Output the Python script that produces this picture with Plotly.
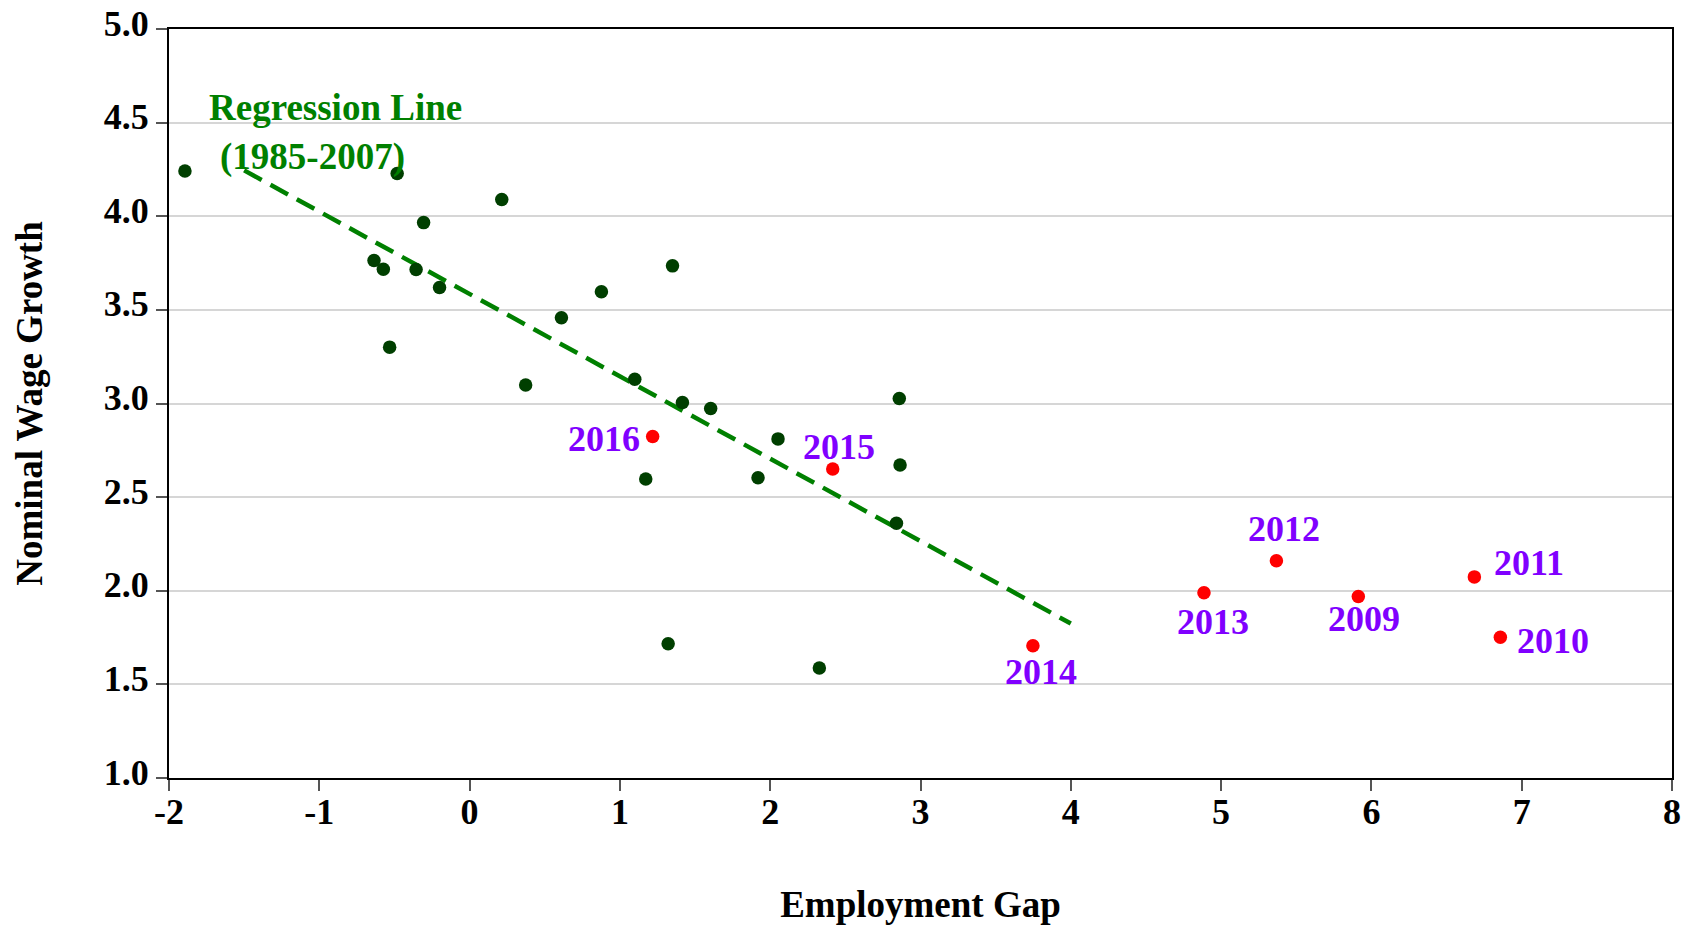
import plotly.graph_objects as go

# 1985-2007 observations: employment gap vs nominal wage growth
gap_hist = [-1.894, -0.482, 0.214, -0.306, -0.636, -0.574, -0.356, -0.200, 1.350,
            0.877, 0.611, -0.532, 0.373, 1.099, 1.416, 1.604, 2.859, 2.052,
            2.864, 1.172, 1.919, 2.840, 1.321, 2.327]
wage_hist = [4.242, 4.228, 4.090, 3.966, 3.764, 3.717, 3.716, 3.619, 3.735,
             3.597, 3.458, 3.301, 3.099, 3.129, 3.005, 2.973, 3.027, 2.811,
             2.672, 2.597, 2.604, 2.360, 1.717, 1.588]

# Post-crisis years
years = ["2009", "2010", "2011", "2012", "2013", "2014", "2015", "2016"]
gap_recent = [5.913, 6.858, 6.685, 5.368, 4.886, 3.748, 2.416, 1.218]
wage_recent = [1.969, 1.752, 2.074, 2.160, 1.989, 1.706, 2.650, 2.824]

# Regression line fitted on 1985-2007
reg_intercept = 3.585
reg_slope = -0.44
reg_x = [-1.5, 4.0]
reg_y = [reg_intercept + reg_slope * x for x in reg_x]

x_ticks = [-2, -1, 0, 1, 2, 3, 4, 5, 6, 7, 8]
y_ticks = [1.0, 1.5, 2.0, 2.5, 3.0, 3.5, 4.0, 4.5, 5.0]

SERIF = "Liberation Serif"
PURPLE = "#8000FF"
LINE_GREEN = "#008000"
DOT_GREEN = "#003F00"

# label offsets (pixels) relative to each year's point
label_offsets = {
    "2009": (6, -22), "2010": (53, -4), "2011": (55, 14),
    "2012": (8, 32), "2013": (9, -29), "2014": (8, -26),
    "2015": (6, 22), "2016": (-49, -3),
}

fig = go.Figure()

fig.add_trace(go.Scatter(
    x=reg_x, y=reg_y, mode="lines",
    line=dict(color=LINE_GREEN, width=4.5, dash="20px,10px"),
    hoverinfo="skip", showlegend=False,
))

fig.add_trace(go.Scatter(
    x=gap_hist, y=wage_hist, mode="markers",
    marker=dict(color=DOT_GREEN, size=13.5),
    showlegend=False,
))

fig.add_trace(go.Scatter(
    x=gap_recent, y=wage_recent, mode="markers",
    marker=dict(color="#FF0000", size=13.5),
    showlegend=False,
))

for yr, gx, wy in zip(years, gap_recent, wage_recent):
    dx, dy = label_offsets[yr]
    fig.add_annotation(
        x=gx, y=wy, text=yr, showarrow=False,
        xanchor="center", yanchor="middle", xshift=dx, yshift=dy,
        font=dict(family=SERIF, size=36, color=PURPLE, weight="bold"),
    )

fig.add_annotation(
    x=-1.75, y=4.583, text="Regression Line", showarrow=False,
    xanchor="left", yanchor="middle",
    font=dict(family=SERIF, size=37, color=LINE_GREEN, weight="bold"),
)
fig.add_annotation(
    x=-1.676, y=4.316, text="(1985-2007)", showarrow=False,
    xanchor="left", yanchor="middle",
    font=dict(family=SERIF, size=37, color=LINE_GREEN, weight="bold"),
)

axis_font = dict(family=SERIF, size=36, color="black", weight="bold")
title_font = dict(family=SERIF, size=37, color="black", weight="bold")

fig.update_layout(
    width=1692, height=926,
    margin=dict(l=169, r=20, t=29, b=148),
    plot_bgcolor="white", paper_bgcolor="white",
    xaxis=dict(
        range=[-2, 8], tickvals=x_ticks, ticktext=[str(v) for v in x_ticks],
        showgrid=False, zeroline=False, automargin=False,
        showline=True, linecolor="black", linewidth=2, mirror=True,
        ticks="outside", ticklen=11, tickwidth=1.5, tickcolor="#555555",
        tickfont=axis_font, ticklabelstandoff=-10,
        title=dict(text="Employment Gap", font=title_font, standoff=60),
    ),
    yaxis=dict(
        range=[1, 5], tickvals=y_ticks, ticktext=[f"{v:.1f}" for v in y_ticks],
        showgrid=True, gridcolor="#d6d6d6", gridwidth=1.5, zeroline=False,
        automargin=False,
        showline=True, linecolor="black", linewidth=2, mirror=True,
        ticks="outside", ticklen=11, tickwidth=1.5, tickcolor="#555555",
        tickfont=axis_font, ticklabelstandoff=0, ticklabelshift=-6,
        title=dict(text="Nominal Wage Growth", font=title_font, standoff=50),
    ),
)

fig.write_html("out.html")
